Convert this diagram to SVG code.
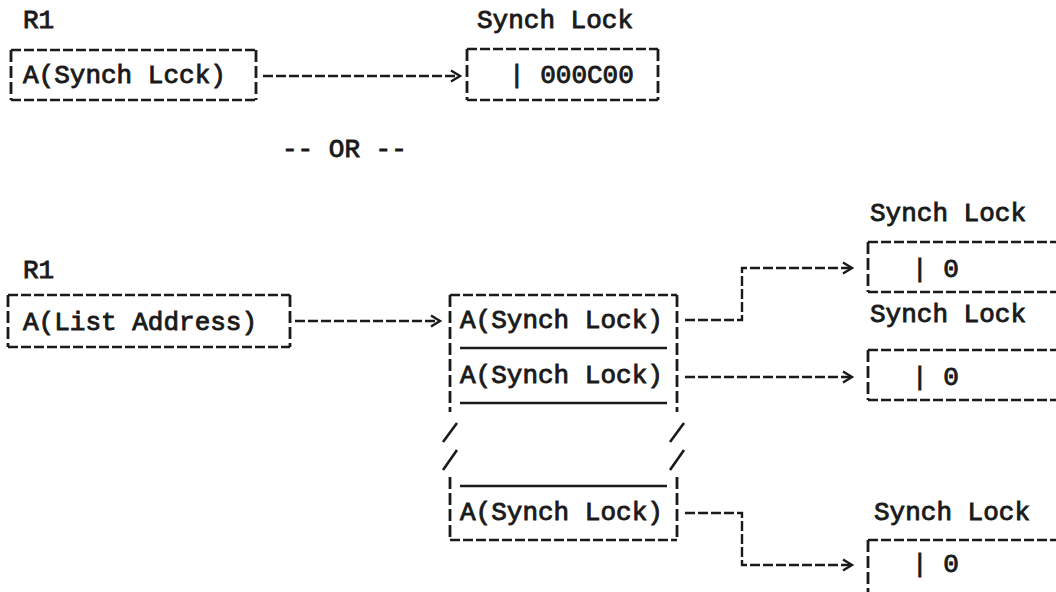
<svg xmlns="http://www.w3.org/2000/svg" width="1056" height="592" viewBox="0 0 1056 592">
  <style>
    text { font-family: "Liberation Mono", "Courier New", monospace; font-size: 26px; font-weight: normal; fill: #1a1a1a; stroke: #1a1a1a; stroke-width: 0.9; }
    .h { fill: none; stroke: #1a1a1a; stroke-width: 2.6; stroke-dasharray: 10 3; }
    .v { fill: none; stroke: #1a1a1a; stroke-width: 2.8; stroke-dasharray: 12 4; }
    .solid { fill: none; stroke: #1a1a1a; stroke-width: 2.6; }
    .link { fill: none; stroke: #1a1a1a; stroke-width: 2.4; stroke-dasharray: 10 3; }
  </style>
  <defs>
    <marker id="chev" markerUnits="userSpaceOnUse" markerWidth="14" markerHeight="14" refX="11" refY="7" orient="auto">
      <path d="M2,1.5 L11,7 L2,12.5" fill="none" stroke="#1a1a1a" stroke-width="2.4"/>
    </marker>
  </defs>
  <rect width="1056" height="592" fill="#ffffff"/>

  <!-- first alternative: R1 points directly at the synch lock -->
  <g id="r1-top">
    <text x="23" y="28">R1</text>
    <path class="h" d="M11,50 H256 M11,100 H256"/>
    <path class="v" d="M11,50 V100 M256,50 V100"/>
    <text x="23" y="83">A(Synch Lcck)</text>
  </g>

  <g id="lock-top">
    <text x="477" y="28">Synch Lock</text>
    <path class="h" d="M467,49 H658 M467,100 H658"/>
    <path class="v" d="M467,49 V100 M658,49 V100"/>
    <text x="509" y="83">| 000C00</text>
  </g>

  <text id="or" x="282" y="157">-- OR --</text>

  <!-- second alternative: R1 points at a list of lock addresses -->
  <g id="r1-list">
    <text x="23" y="278">R1</text>
    <path class="h" d="M8,295 H290 M8,347 H290"/>
    <path class="v" d="M8,295 V347 M290,295 V347"/>
    <text x="23" y="330">A(List Address)</text>
  </g>

  <g id="address-list">
    <path class="h" d="M450,295 H677 M450,540 H677"/>
    <path class="solid" d="M460,348 H667 M460,403 H667 M460,486 H667"/>
    <path class="v" d="M450,295 V412 M677,295 V412 M450,477 V540 M677,477 V540"/>
    <!-- break marks where the list continues -->
    <path class="solid" d="M443,442 L457,423 M443,470 L457,450 M670,442 L684,423 M670,470 L684,450"/>
    <text x="460" y="328">A(Synch Lock)</text>
    <text x="460" y="383">A(Synch Lock)</text>
    <text x="460" y="520">A(Synch Lock)</text>
  </g>

  <g id="lock-1">
    <text x="870" y="221">Synch Lock</text>
    <path class="h" d="M868,242 H1070 M868,292 H1070"/>
    <path class="v" d="M868,242 V292"/>
    <text x="912" y="277">| 0</text>
  </g>

  <g id="lock-2">
    <text x="870" y="322">Synch Lock</text>
    <path class="h" d="M868,350 H1070 M868,400 H1070"/>
    <path class="v" d="M868,350 V400"/>
    <text x="912" y="385">| 0</text>
  </g>

  <g id="lock-n">
    <text x="874" y="520">Synch Lock</text>
    <path class="h" d="M868,540 H1070"/>
    <path class="v" d="M868,540 V600"/>
    <text x="912" y="572">| 0</text>
  </g>

  <g id="connectors">
    <path class="link" d="M263,76 H460" marker-end="url(#chev)"/>
    <path class="link" d="M295,321 H440" marker-end="url(#chev)"/>
    <path class="link" d="M685,320 H742 V268 H852" marker-end="url(#chev)"/>
    <path class="link" d="M685,377 H852" marker-end="url(#chev)"/>
    <path class="link" d="M685,513 H742 V565 H852" marker-end="url(#chev)"/>
  </g>
</svg>
